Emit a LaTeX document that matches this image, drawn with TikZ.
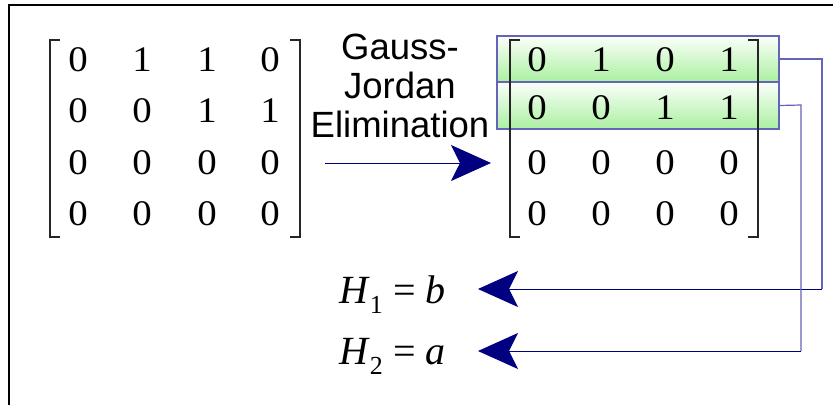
\documentclass[tikz,border=0pt]{standalone}
\usepackage{fontspec}
\setmainfont{Liberation Serif}
\newfontfamily\arialf{Liberation Sans}
\usetikzlibrary{arrows.meta}
\definecolor{navy}{RGB}{0,0,128}
\definecolor{boxline}{RGB}{100,100,185}
\definecolor{lgreen}{RGB}{170,240,160}
\newcommand{\dg}[1]{\scalebox{1.08}[1]{#1}}
\tikzset{
  dig/.style={font=\fontsize{36}{36}\selectfont, inner sep=0pt},
  brk/.style={line width=1.6pt, black!85},
  rowbox/.style={draw=boxline, line width=1.2pt, minimum width=282pt, inner sep=0pt,
     left color=white!96!lgreen, right color=lgreen, shading angle=0},
  conn/.style={draw=boxline, line width=1.2pt},
  bigarrow/.style={draw=navy, line width=1pt, -{Stealth[length=40pt,width=36pt,inset=9pt,fill=navy]}},
  hlab/.style={font=\fontsize{40}{40}\selectfont, inner sep=0pt, anchor=west},
}
\begin{document}
\begin{tikzpicture}[x=1pt,y=-1pt]
\useasboundingbox (0,0) rectangle (833,405);
% frame
\draw[line width=1.6pt] (9,405) -- (9,5) -- (833,5);
% left matrix brackets
\draw[brk] (60,40) -- (50,40) -- (50,237) -- (60,237);
\draw[brk] (290,40) -- (300,40) -- (300,237) -- (290,237);
% right matrix row boxes
\node[rowbox, minimum height=46pt] (rb1) at (638,59) {};
\node[rowbox, minimum height=47pt] (rb2) at (638,105.5) {};
% right matrix brackets
\draw[brk] (520,40) -- (510,40) -- (510,237) -- (520,237);
\draw[brk] (748,40) -- (758,40) -- (758,237) -- (748,237);
% entries
\foreach \r/\y/\a/\b/\c/\d in {1/60/0/1/1/0, 2/111/0/0/1/1, 3/163/0/0/0/0, 4/214/0/0/0/0}{
  \node[dig] (L\r a) at (78,\y) {\dg{\a}};
  \node[dig] (L\r b) at (142,\y) {\dg{\b}};
  \node[dig] (L\r c) at (207,\y) {\dg{\c}};
  \node[dig] (L\r d) at (270,\y) {\dg{\d}};
}
\foreach \r/\y/\a/\b/\c/\d in {1/60/0/1/0/1, 2/108/0/0/1/1, 3/163/0/0/0/0, 4/214/0/0/0/0}{
  \node[dig] (R\r a) at (537,\y) {\dg{\a}};
  \node[dig] (R\r b) at (601,\y) {\dg{\b}};
  \node[dig] (R\r c) at (665,\y) {\dg{\c}};
  \node[dig] (R\r d) at (729,\y) {\dg{\d}};
}
% label
\node[font=\arialf\fontsize{36.5}{39}\selectfont, align=center, inner sep=0pt] (gj) at (400,86)
  {Gauss-\\Jordan\\Elimination};
% main arrow
\coordinate (ms) at (325,163);
\coordinate (me) at (491,163);
\draw[bigarrow] (ms) -- (me);
% H labels
\node[hlab] (h1) at (339,295) {\textit{H}\raisebox{-10pt}{\fontsize{26}{26}\selectfont 1}\hspace{11pt}=\hspace{9pt}\textit{b}};
\node[hlab] (h2) at (339,356) {\textit{H}\raisebox{-10pt}{\fontsize{26}{26}\selectfont 2}\hspace{11pt}=\hspace{9pt}\textit{a}};
\coordinate (t1) at (478,289);
\coordinate (t2) at (478,351);
\coordinate (k1) at (822,59);
\coordinate (k2) at (801,105);
\draw[conn] (rb1.east) -- (k1) -- (k1 |- t1);
\draw[bigarrow] (k1 |- t1) -- (t1);
\draw[conn] (rb2.east) -- (k2) -- (k2 |- t2);
\draw[bigarrow] (k2 |- t2) -- (t2);
\end{tikzpicture}
\end{document}
